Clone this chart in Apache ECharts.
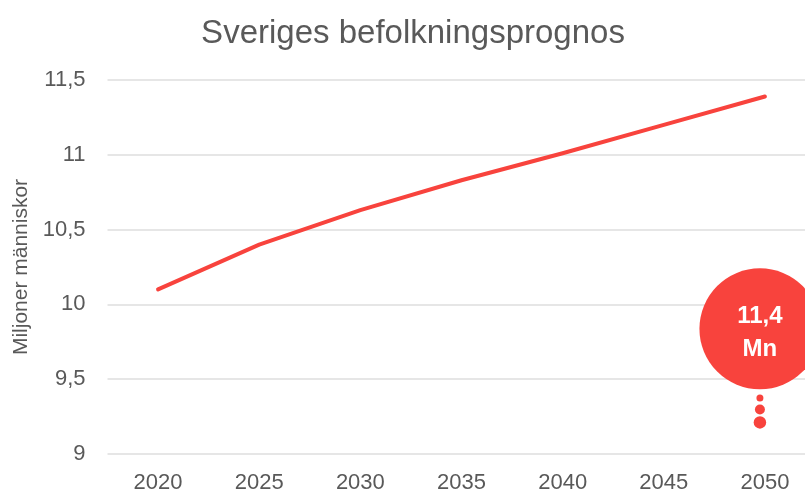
<!DOCTYPE html>
<html>
<head>
<meta charset="utf-8">
<script src="https://cdn.jsdelivr.net/npm/echarts@6/dist/echarts.min.js"></script>
<style>html,body{margin:0;padding:0;background:#fff;}#c{width:805px;height:492px;}</style>
</head>
<body>
<div id="c"></div>
<script>
const years = ['2020', '2025', '2030', '2035', '2040', '2045', '2050'];
const population = [10.1, 10.4, 10.63, 10.83, 11.01, 11.2, 11.39];
const yTicks = { min: 9, max: 11.5, interval: 0.5 };
const calloutText = '11,4\nMn';
const calloutValue = 9.837;
const calloutDots = [9.375, 9.298, 9.211];
const calloutDotSizes = [7, 10, 12.5];

const red = '#f8433d';
const font = '"Liberation Sans", Arial, sans-serif';
const chart = echarts.init(document.getElementById('c'), null, { renderer: 'canvas' });
chart.setOption({
  animation: false,
  backgroundColor: '#fff',
  title: {
    text: 'Sveriges befolkningsprognos',
    left: 408, textAlign: 'center', top: 12,
    textStyle: { fontFamily: font, fontSize: 33, fontWeight: 'normal', color: '#595959' }
  },
  grid: { left: 107.5, width: 708, top: 80, bottom: 38, outerBoundsMode: 'none', containLabel: false },
  xAxis: {
    type: 'category', data: years, boundaryGap: true,
    axisLine: { show: false }, axisTick: { show: false },
    axisLabel: { fontFamily: font, fontSize: 22, color: '#595959', margin: 18 }
  },
  yAxis: {
    type: 'value', min: yTicks.min, max: yTicks.max, interval: yTicks.interval,
    name: 'Miljoner människor', nameLocation: 'middle', nameGap: 75,
    nameTextStyle: { fontFamily: font, fontSize: 21, color: '#595959' },
    axisLine: { show: false }, axisTick: { show: false },
    splitLine: { lineStyle: { color: '#dedede', width: 1.5 } },
    axisLabel: {
      fontFamily: font, fontSize: 22, color: '#595959', margin: 22,
      formatter: v => String(v).replace('.', ',')
    }
  },
  series: [
    {
      type: 'line', data: population, symbol: 'none',
      lineStyle: { color: red, width: 4, cap: 'round', join: 'round' },
      z: 3
    },
    {
      type: 'scatter', silent: true,
      data: [[years[years.length - 1], calloutValue]],
      symbol: 'circle', symbolSize: 121, symbolOffset: [-5, 0],
      itemStyle: { color: red, opacity: 1 },
      label: {
        show: true, position: 'inside', formatter: calloutText,
        fontFamily: font, fontSize: 24, fontWeight: 'bold', color: '#fff', lineHeight: 33,
        offset: [0, 4]
      },
      z: 5
    },
    {
      type: 'scatter', silent: true,
      data: calloutDots.map((v, i) => ({ value: [years[years.length - 1], v], symbolSize: calloutDotSizes[i] })),
      symbol: 'circle', symbolOffset: [-5, 0],
      itemStyle: { color: red, opacity: 1 },
      z: 5
    }
  ]
});
</script>
</body>
</html>
